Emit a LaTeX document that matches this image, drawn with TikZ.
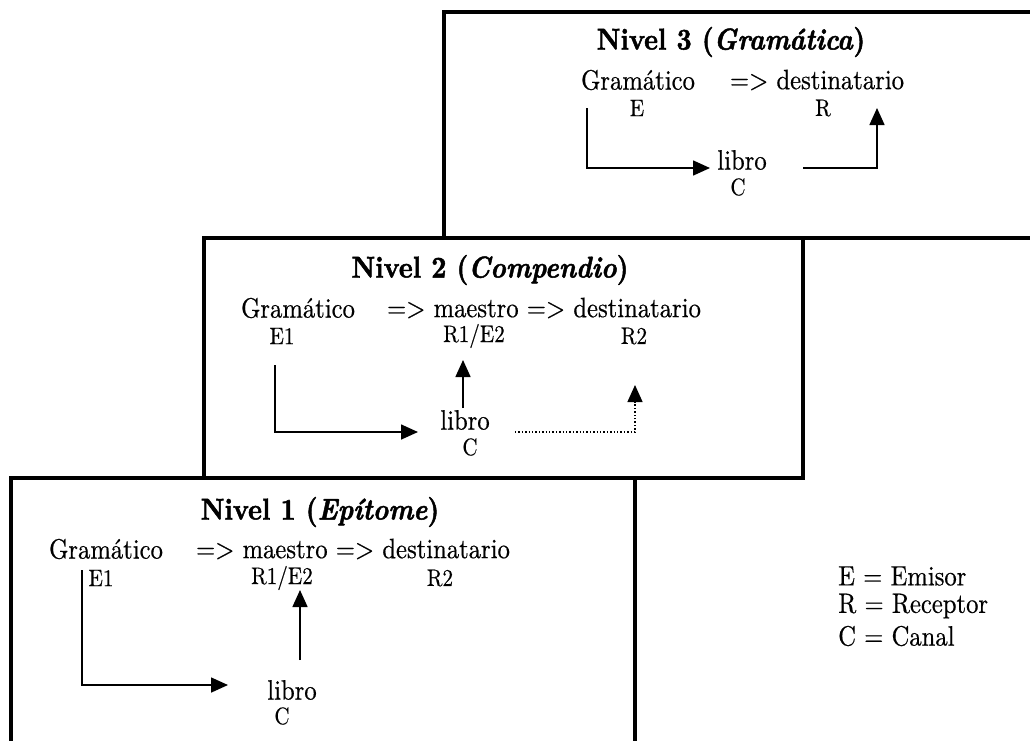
\documentclass[tikz,border=0pt]{standalone}
\usepackage{fontspec}
% condensed Latin Modern faces for body text and headings
\newfontfamily\bodyfont{lmroman10-regular.otf}[FakeStretch=0.88, FakeBold=0.5]
\newfontfamily\headfont{lmroman10-bold.otf}[FakeStretch=0.88, FakeBold=1.6,
  ItalicFont=lmroman10-bolditalic.otf,
  ItalicFeatures={FakeStretch=0.88, FakeBold=1.6}]
\usetikzlibrary{arrows.meta}
\begin{document}
\begin{tikzpicture}[x=1pt,y=-1pt,
  frame/.style={line width=3.5pt},
  ttl/.style={font=\fontsize{30}{33}\headfont, inner sep=0pt},
  txt/.style={font=\fontsize{28}{31}\bodyfont, inner sep=0pt},
  lbl/.style={font=\fontsize{24}{27}\bodyfont, inner sep=0pt},
  leg/.style={font=\fontsize{28}{31}\bodyfont, inner sep=0pt, anchor=west},
  arr/.style={line width=1.6pt, -{Triangle[length=17pt,width=15pt]}},
  dotarr/.style={line width=1.4pt, dotted, -{Triangle[length=17pt,width=15pt]}}]
\useasboundingbox (0,0) rectangle (1030,740);
\clip (0,0) rectangle (1030,740);

% the three frames
\draw[frame] (444,12) rectangle (1050,238);
\draw[frame] (204,238) rectangle (803,478);
\draw[frame] (11,478) rectangle (635,760);

% level 3
\node[ttl] (t3) at (731,42) {Nivel 3 (\textit{Gramática})};
\node[txt] (g3) at (638,80) {Gramático};
\node[txt] (d3) at (817,80) {=> destinatario};
\node[lbl] (e3) at (637,108) {E};
\node[lbl] (r3) at (823,108) {R};
\node[txt] (l3) at (742,160) {libro};
\node[lbl] (c3) at (738,187) {C};
\coordinate (s3) at (587,108);
\coordinate (k3) at (587,168);
\coordinate (h3) at (710,168);
\coordinate (o3) at (803,168);
\coordinate (u3) at (877,108);
\draw[arr] (s3) -- (k3) -- (h3);
\draw[arr] (o3) -| (u3);

% level 2
\node[ttl] (t2) at (490,270) {Nivel 2 (\textit{Compendio})};
\node[txt] (g2) at (298,308) {Gramático};
\node[txt] (d2) at (544,308) {=> maestro => destinatario};
\node[lbl] (e2) at (282,336) {E1};
\node[lbl] (m2) at (474,336) {R1/E2};
\node[lbl] (r2) at (634,336) {R2};
\node[txt] (l2) at (465,420) {libro};
\node[lbl] (c2) at (470,447) {C};
\coordinate (s2) at (275,365);
\coordinate (k2) at (275,432);
\coordinate (h2) at (418,432);
\coordinate (b2) at (463,408);
\coordinate (u2) at (463,360);
\coordinate (o2) at (515,432);
\coordinate (v2) at (635,385);
\draw[arr] (s2) -- (k2) -- (h2);
\draw[arr] (b2) -- (u2);
\draw[dotarr] (o2) -| (v2);

% level 1
\node[ttl] (t1) at (320,512) {Nivel 1 (\textit{Epítome})};
\node[txt] (g1) at (106,549) {Gramático};
\node[txt] (d1) at (353,549) {=> maestro => destinatario};
\node[lbl] (e1) at (101,578) {E1};
\node[lbl] (m1) at (282,578) {R1/E2};
\node[lbl] (r1) at (440,578) {R2};
\node[txt] (l1) at (292,690) {libro};
\node[lbl] (c1) at (282,716) {C};
\coordinate (s1) at (82,570);
\coordinate (k1) at (82,685);
\coordinate (h1) at (228,685);
\coordinate (b1) at (300,660);
\coordinate (u1) at (300,590);
\draw[arr] (s1) -- (k1) -- (h1);
\draw[arr] (b1) -- (u1);

% legend
\node[leg] (le) at (838,576) {E = Emisor};
\node[leg] (lr) at (838,606) {R = Receptor};
\node[leg] (lc) at (838,636) {C = Canal};
\end{tikzpicture}
\end{document}
